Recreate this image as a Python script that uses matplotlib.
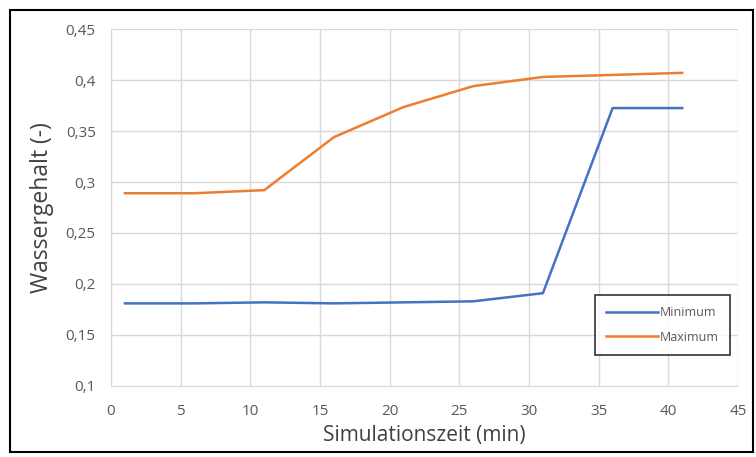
import matplotlib.pyplot as plt
from matplotlib.patches import Rectangle

plt.rcParams['font.family'] = ['Open Sans', 'DejaVu Sans']

# simulation time (min)
zeit = [1, 6, 11, 16, 21, 26, 31, 36, 41]
# water content, lowest and highest value
minimum = [0.181, 0.181, 0.182, 0.181, 0.182, 0.183, 0.191, 0.3725, 0.3725]
maximum = [0.289, 0.289, 0.292, 0.344, 0.3735, 0.394, 0.403, 0.405, 0.407]

x_ticks = [0, 5, 10, 15, 20, 25, 30, 35, 40, 45]
y_ticks = [0.1, 0.15, 0.2, 0.25, 0.3, 0.35, 0.4, 0.45]

fig = plt.figure(figsize=(7.56, 4.57), dpi=100)
ax = fig.add_axes([0.1468, 0.1554, 0.8294, 0.7811])

ax.plot(zeit, minimum, color='#4472C4', lw=1.8, label='Minimum')
ax.plot(zeit, maximum, color='#ED7D31', lw=1.8, label='Maximum')

ax.set_xlim(0, 45)
ax.set_ylim(0.1, 0.45)
ax.set_xticks(x_ticks)
ax.set_yticks(y_ticks)
ax.set_xticklabels([str(v) for v in x_ticks])
ax.set_yticklabels([f'{v:g}'.replace('.', ',') for v in y_ticks])
ax.tick_params(axis='x', length=0, labelsize=11, colors='#595959', pad=13)
ax.tick_params(axis='y', length=0, labelsize=11, colors='#595959', pad=11)
ax.grid(True, color='#D9D9D9', lw=1)
ax.set_axisbelow(True)
for side in ['top', 'right']:
    ax.spines[side].set_visible(False)
for side in ['left', 'bottom']:
    ax.spines[side].set_color('#D9D9D9')

ax.set_xlabel('Simulationszeit (min)', fontsize=15, color='#404040', va='center')
ax.xaxis.set_label_coords(0.5, -0.14)
ax.set_ylabel('Wassergehalt (-)', fontsize=16.5, color='#404040', va='center')
ax.yaxis.set_label_coords(-0.11, 0.5)

leg = ax.legend(loc='lower right', bbox_to_anchor=(0.987, 0.087), borderaxespad=0,
                fontsize=9, frameon=True, fancybox=False, edgecolor='black',
                handlelength=4.2, handletextpad=0.1, borderpad=0.9,
                labelspacing=0.9, labelcolor='#595959')
leg.get_frame().set_linewidth(1.2)

# outer chart border
fig.patches.append(Rectangle((0.013, 0.012), 0.983, 0.967, transform=fig.transFigure,
                             fill=False, edgecolor='black', lw=1.5))

fig.savefig('out.png', dpi=100)
